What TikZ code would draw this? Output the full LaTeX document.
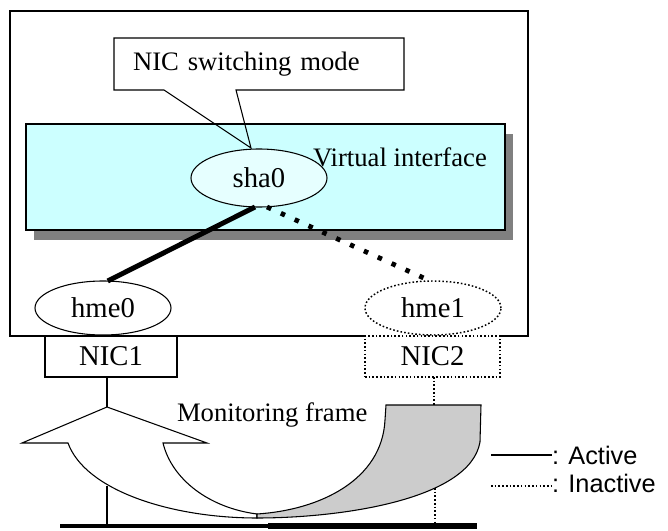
\documentclass[tikz,border=0pt]{standalone}
\usepackage{fontspec}
\setmainfont{Liberation Serif}
\newfontfamily\legendfont{Liberation Sans}
\usetikzlibrary{shapes.geometric,shadows}
\definecolor{vifcyan}{HTML}{CCFFFF}
\definecolor{shadowgray}{HTML}{808080}
\definecolor{tailgray}{HTML}{CCCCCC}
\definecolor{shacyan}{HTML}{E6FFFF}
\begin{document}
\begin{tikzpicture}[x=0.75pt,y=-0.75pt,
  every node/.style={inner sep=0pt,outer sep=0pt},
  thin line/.style={line width=0.8pt},
  lbl/.style={font=\fontsize{20}{24}\selectfont},
  biglbl/.style={font=\fontsize{21.5}{24}\selectfont},
  legendlbl/.style={font=\legendfont\fontsize{19}{22}\selectfont},
  ifell/.style={ellipse,thin line,biglbl,minimum width=102pt,minimum height=40.5pt},
  nicbox/.style={rectangle,thin line,biglbl,minimum width=99pt,minimum height=30.75pt,anchor=north},
  dotline/.style={line width=1.1pt,dash pattern=on 1.2pt off 1.6pt},
  activelink/.style={line width=3.75pt},
  inactivelink/.style={line width=3.6pt,dash pattern=on 3.4pt off 8pt}
]
\useasboundingbox (0,0) rectangle (668,531);

% NIC boxes
\node[nicbox,draw,fill=white] (NIC1) at (111,336) {NIC1};
\node[nicbox,draw,dotline,fill=white,minimum width=101.25pt] (NIC2) at (432.5,336) {NIC2};

% outer host box (bottom edge interrupted by NIC2)
\node[minimum width=388.5pt,minimum height=243.75pt] (outer) at (269,173.5) {};
\draw[thin line] (NIC2.north west) -- (outer.south west) -- (outer.north west)
  -- (outer.north east) -- (outer.south east) -- (NIC2.north east);

% virtual interface box with shadow
\node[draw,thin line,fill=vifcyan,minimum width=359.25pt,minimum height=79.5pt,
  drop shadow={shadow xshift=6pt,shadow yshift=-7.5pt,fill=shadowgray,opacity=1}]
  (vif) at (265.5,177) {};
\node[lbl,anchor=west] (viftext) at (313,157) {Virtual interface};

% callout
\node[lbl,minimum width=217.5pt,minimum height=39pt,text width=189pt,align=left]
  (call) at (259,64) {NIC switching mode};
\coordinate (p1) at (164,90);
\coordinate (p2) at (236,90);
\coordinate (ptip) at (251,148);
\draw[thin line] (p1) -- (call.south west) -- (call.north west) -- (call.north east)
  -- (call.south east) -- (p2) -- (ptip) -- cycle;

% interfaces
\node[ifell,draw,fill=shacyan,minimum width=102pt,minimum height=43.5pt] (sha0) at (259,178) {sha0};
\node[ifell,draw,fill=white] (hme0) at (103,308) {hme0};
\node[ifell,draw,dotline,fill=white] (hme1) at (433,308) {hme1};

% links
\draw[activelink] ([xshift=-3pt]sha0.south) -- ([xshift=3.5pt]hme0.north);
\draw[inactivelink] ([xshift=6pt]sha0.south) -- ([xshift=-2pt]hme1.north);
\draw[thin line] (hme0.south) -- (hme0.south |- NIC1.north);

% curved monitoring arrow
\coordinate (tip) at (107,407);
\coordinate (gtop) at (434,405);
\filldraw[thin line,fill=white] (tip) -- (207,443) -- (163,443)
  .. controls (172,480) and (210,508) .. (257,514) -- (257,518)
  .. controls (170,518) and (85,490) .. (68,443) -- (22,443) -- cycle;
\filldraw[thin line,fill=tailgray] (386,405) -- (481,405) -- (480,442)
  .. controls (470,500) and (340,518) .. (257,518) -- (257,514)
  .. controls (320,510) and (382,480) .. (385,420) -- cycle;
\node[lbl,anchor=west] (mon) at (177,415) {Monitoring frame};

\draw[thin line] (NIC1.south -| tip) -- (tip);
\draw[dotline] (NIC2.south -| gtop) -- (gtop);

% bus
\coordinate (busL) at (60,526);
\coordinate (busM) at (268,526);
\coordinate (busR) at (477,526);
\draw[line width=3pt] (busL) -- (busM);
\draw[line width=4.5pt] (busM) -- (busR);
\coordinate (v1) at (107,486);
\coordinate (v2) at (435,488);
\draw[thin line] (v1) -- (v1 |- busL);
\draw[dotline] (v2) -- (v2 |- busL);

% legend
\coordinate (la1) at (491,455);
\coordinate (la2) at (552,455);
\coordinate (li1) at (491,486);
\coordinate (li2) at (552,486);
\draw[thin line] (la1) -- (la2);
\draw[dotline] (li1) -- (li2);
\node[legendlbl,anchor=west] (acttext) at (la2) {: Active};
\node[legendlbl,anchor=west] (inacttext) at (552,483) {: Inactive};
\end{tikzpicture}
\end{document}
